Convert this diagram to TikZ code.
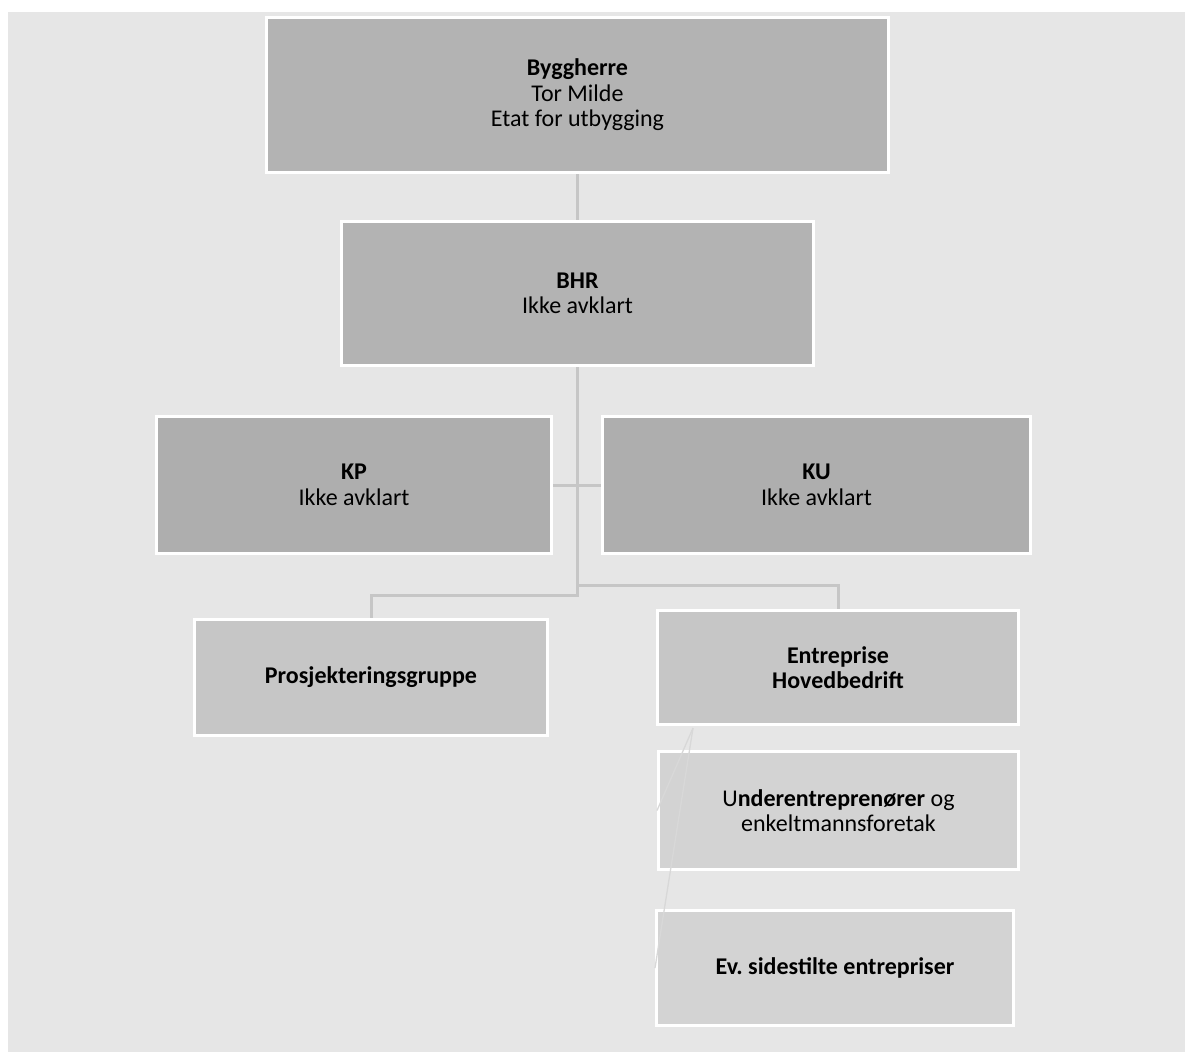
\documentclass[tikz,border=0pt]{standalone}
\usepackage{fontspec}
\setmainfont{Carlito}
\usetikzlibrary{backgrounds}
\definecolor{bakgrunn}{HTML}{E6E6E6}
\definecolor{mork}{HTML}{B3B3B3}
\definecolor{morkere}{HTML}{AEAEAE}
\definecolor{middels}{HTML}{C6C6C6}
\definecolor{lys}{HTML}{D3D3D3}
\definecolor{linje}{HTML}{C6C6C6}
\definecolor{tynnlinje}{HTML}{D8D8D8}
\frenchspacing
\begin{document}
\begin{tikzpicture}[x=1pt, y=-1pt,
	boks/.style={draw=white, line width=3pt, inner sep=0pt, align=center,
		font=\fontsize{24}{25.5}\selectfont},
	gren/.style={draw=linje, line width=3pt},
	tynn/.style={draw=tynnlinje, line width=1.3pt}]
	\useasboundingbox (0,0) rectangle (1185,1052);
	
	% Bokser
	\node[boks, fill=mork, minimum width=622pt, minimum height=155pt] (byg) at (577.5,95) {\textbf{Byggherre}\\Tor Milde\\Etat for utbygging};
	\node[boks, fill=mork, minimum width=472pt, minimum height=144pt] (bhr) at (577.5,293.5) {\textbf{BHR}\\Ikke avklart};
	\node[boks, fill=morkere, minimum width=395pt, minimum height=137pt] (kp) at (354,485) {\textbf{KP}\\Ikke avklart};
	\node[boks, fill=morkere, minimum width=428pt, minimum height=137pt] (ku) at (816.5,485) {\textbf{KU}\\Ikke avklart};
	\node[boks, fill=middels, minimum width=353pt, minimum height=116pt] (pro) at (371,677.5) {\textbf{Prosjekteringsgruppe}};
	\node[boks, fill=middels, minimum width=361pt, minimum height=114pt] (ent) at (838,667.5) {\textbf{Entreprise}\\\textbf{Hovedbedrift}};
	\node[boks, fill=lys, minimum width=360pt, minimum height=118pt] (und) at (838.5,810.5) {U\textbf{nderentreprenører} og\\enkeltmannsforetak};
	\node[boks, fill=lys, minimum width=357pt, minimum height=115pt] (ev) at (835,968) {\textbf{Ev. sidestilte entrepriser}};
	
	% Bakgrunn og grener
	\begin{scope}[on background layer]
		\fill[bakgrunn] (8,12) rectangle (1185,1052);
		\coordinate (venstre) at (577.5,595);
		\coordinate (hoyre) at (577.5,585);
		\draw[gren] (byg.south) -- (bhr.north);
		\draw[gren] (bhr.south) -- (venstre) -| (pro.north);
		\draw[gren] (hoyre) -| (ent.north);
		\draw[gren] (kp.east) -- (ku.west);
	\end{scope}
	
	% Tynne linjer
	\coordinate (tapp) at (693,728);
	\draw[tynn] (tapp) -- (und.west);
	\draw[tynn] (tapp) -- (ev.west);
\end{tikzpicture}
\end{document}
